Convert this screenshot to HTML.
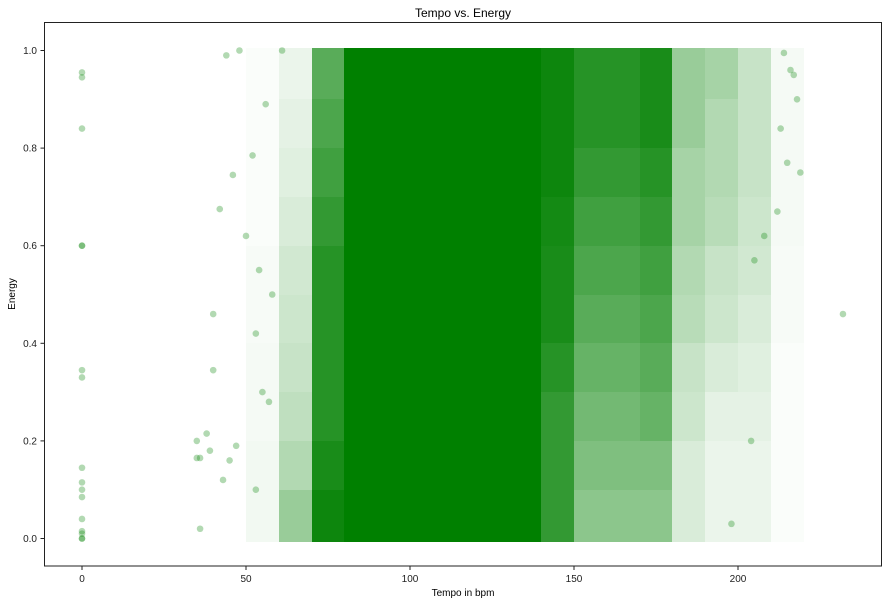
<!DOCTYPE html>
<html><head><meta charset="utf-8"><style>
body{margin:0;background:#fff;font-family:"Liberation Sans",sans-serif}
</style></head><body>
<svg id="chart" width="891" height="604" xmlns="http://www.w3.org/2000/svg">
<text x="463" y="17" font-size="12" text-anchor="middle">Tempo vs. Energy</text>
<g id="cells" shape-rendering="crispEdges"></g><g id="pts"></g>
<rect x="44.5" y="22.5" width="837" height="543.5" fill="none" stroke="#222" stroke-width="1"/>
<g id="axes" font-size="10" fill="#222"></g>
<text x="463" y="596" font-size="10" text-anchor="middle">Tempo in bpm</text>
<text x="15" y="294" font-size="10" text-anchor="middle" transform="rotate(-90 15 294)">Energy</text>
</svg>
<script>
const xTicks=[0,50,100,150,200];
const yTicks=[0.0,0.2,0.4,0.6,0.8,1.0];
const yTickLabels=["0.0","0.2","0.4","0.6","0.8","1.0"];
// density grid: column start tempos (10 bpm wide), rows energy bins 0.0-0.1 ... 0.9-1.0
const binTempos=[50,60,70,80,90,100,110,120,130,140,150,160,170,180,190,200,210];
const binEnergies=[0,0.1,0.2,0.3,0.4,0.5,0.6,0.7,0.8,0.9];
const density=[
 [0.05,0.4,0.95,1,1,1,1,1,1,0.8,0.45,0.45,0.45,0.15,0.08,0.08,0.02],
 [0.05,0.3,0.9,1,1,1,1,1,1,0.8,0.5,0.5,0.5,0.15,0.08,0.08,0.02],
 [0.04,0.25,0.85,1,1,1,1,1,1,0.8,0.55,0.55,0.6,0.2,0.1,0.1,0.02],
 [0.04,0.22,0.85,1,1,1,1,1,1,0.85,0.6,0.6,0.65,0.22,0.15,0.12,0.02],
 [0.03,0.2,0.85,1,1,1,1,1,1,0.9,0.65,0.65,0.7,0.28,0.2,0.15,0.03],
 [0.03,0.18,0.85,1,1,1,1,1,1,0.9,0.7,0.7,0.75,0.3,0.22,0.18,0.03],
 [0.02,0.15,0.8,1,1,1,1,1,1,0.92,0.75,0.75,0.8,0.35,0.28,0.2,0.04],
 [0.02,0.12,0.75,1,1,1,1,1,1,0.95,0.8,0.8,0.85,0.35,0.3,0.22,0.04],
 [0.02,0.1,0.7,1,1,1,1,1,1,0.95,0.85,0.85,0.9,0.4,0.3,0.22,0.04],
 [0.02,0.08,0.65,1,1,1,1,1,1,0.95,0.85,0.85,0.9,0.4,0.35,0.22,0.04]
];
const ptTempo=[0,0,0,0,0,0,0,0,0,0,0,0,0,0,0,0,232,35,36,36,38,39,40,40,42,43,44,46,48,50,52,54,56,57,45,47,55,58,214,216,217,218,213,215,212,219,208,205,204,198,35,53,53,61];
const ptEnergy=[0.955,0.945,0.84,0.6,0.6,0.345,0.33,0.145,0.115,0.1,0.085,0.04,0.015,0.01,0,0,0.46,0.2,0.165,0.02,0.215,0.18,0.46,0.345,0.675,0.12,0.99,0.745,1.0,0.62,0.785,0.55,0.89,0.28,0.16,0.19,0.3,0.5,0.995,0.96,0.95,0.9,0.84,0.77,0.67,0.75,0.62,0.57,0.2,0.03,0.165,0.42,0.1,1.0];
const X=v=>82+v*3.28, Y=v=>538.5-v*488;
const NS="http://www.w3.org/2000/svg";
const cells=document.getElementById('cells'),pts=document.getElementById('pts'),ax=document.getElementById('axes');
binEnergies.forEach((e,r)=>binTempos.forEach((t,c)=>{
 const d=density[r][c]; if(!d)return;
 const el=document.createElementNS(NS,'rect');
 const x0=Math.round(X(t)),x1=Math.round(X(t+10)),y0=Math.round(Y(e+0.1)-(r==9?3:0)),y1=Math.round(Y(e)+(r==0?3:0));
 el.setAttribute('x',x0);el.setAttribute('y',y0);el.setAttribute('width',x1-x0);el.setAttribute('height',y1-y0);
 el.setAttribute('fill','#008000');el.setAttribute('fill-opacity',d);
 
 
 cells.appendChild(el);
}));
ptTempo.forEach((t,i)=>{
 const c=document.createElementNS(NS,'circle');
 c.setAttribute('cx',X(t));c.setAttribute('cy',Y(ptEnergy[i]));c.setAttribute('r',3.3);
 c.setAttribute('fill','#008000');c.setAttribute('fill-opacity',0.3);
 
 
 pts.appendChild(c);
});
xTicks.forEach(v=>{
 const l=document.createElementNS(NS,'line');l.setAttribute('x1',X(v));l.setAttribute('x2',X(v));l.setAttribute('y1',566);l.setAttribute('y2',570);l.setAttribute('stroke','#222');
 
 
 ax.appendChild(l);
 const t=document.createElementNS(NS,'text');t.setAttribute('x',X(v));t.setAttribute('y',582);t.setAttribute('text-anchor','middle');t.textContent=v;
 
 
 ax.appendChild(t);
});
yTicks.forEach((v,i)=>{
 const l=document.createElementNS(NS,'line');l.setAttribute('x1',40.5);l.setAttribute('x2',44.5);l.setAttribute('y1',Y(v));l.setAttribute('y2',Y(v));l.setAttribute('stroke','#222');
 
 
 ax.appendChild(l);
 const t=document.createElementNS(NS,'text');t.setAttribute('x',37);t.setAttribute('y',Y(v)+3.5);t.setAttribute('text-anchor','end');t.textContent=yTickLabels[i];
 
 
 ax.appendChild(t);
});
</script>
</body></html>
